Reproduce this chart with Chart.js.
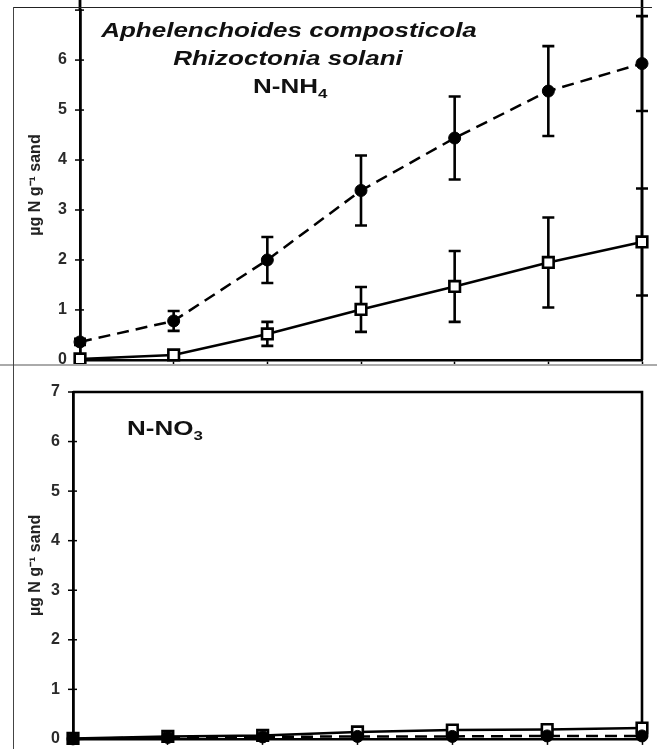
<!DOCTYPE html>
<html>
<head>
<meta charset="utf-8">
<script src="https://cdn.jsdelivr.net/npm/chart.js@4.4.1/dist/chart.umd.min.js"></script>
<style>
  html, body { margin: 0; padding: 0; background: #fff; }
  #wrap { position: relative; width: 657px; height: 749px; overflow: hidden; }
  canvas { position: absolute; left: 0; }
  #topChart { top: 0; }
  #botChart { top: 368px; }
  .line { position: absolute; }
  #frameTop { left: 13px; top: 7px; width: 639px; border-top: 1.5px solid #222; }
  #frameLeft { left: 13px; top: 7px; height: 742px; border-left: 1.5px solid #444; }
  #sep { left: 0; top: 364px; width: 657px; border-top: 2px solid #aaa; }
</style>
</head>
<body>
<div id="wrap">
  <canvas id="topChart" width="657" height="370"></canvas>
  <canvas id="botChart" width="657" height="381"></canvas>
  <div class="line" id="sep"></div>
  <div class="line" id="frameTop"></div>
  <div class="line" id="frameLeft"></div>
</div>
<script>
// sampling days (x axis, labels cut off in the original)
const days = [0, 1, 2, 3, 4, 5, 6];

// N-NH4 panel
const nh4Circles = [0.36, 0.78, 2.0, 3.39, 4.44, 5.38, 5.93];
const nh4CirclesErr = [0.06, 0.2, 0.46, 0.7, 0.83, 0.9, 0.95];
const nh4Squares = [0.02, 0.1, 0.52, 1.01, 1.47, 1.95, 2.36];
const nh4SquaresErr = [0.02, 0.04, 0.24, 0.45, 0.71, 0.9, 1.07];

// N-NO3 panel
const no3Circles = [0.0, 0.03, 0.04, 0.05, 0.05, 0.06, 0.06];
const no3CirclesErr = [0.01, 0.01, 0.01, 0.01, 0.01, 0.01, 0.01];
const no3Squares = [0.01, 0.05, 0.07, 0.14, 0.18, 0.19, 0.22];
const no3SquaresErr = [0.01, 0.01, 0.02, 0.02, 0.02, 0.02, 0.02];

const yMax = 7;
const yTitle = "µg N g⁻¹ sand";
const STRETCH = 1.3; // the scanned figure is a bit wider than tall

function series(vals, errs, style) {
  return Object.assign(
    {
      data: vals.map((v, i) => ({ x: days[i], y: v })),
      errors: errs,
      borderColor: "#000",
      borderWidth: 2.5,
      pointBorderColor: "#000",
      clip: false,
      tension: 0,
    },
    style
  );
}

const circleStyle = {
  borderDash: [12, 7],
  pointStyle: "circle",
  pointRadius: 6,
  pointBackgroundColor: "#000",
  pointBorderWidth: 1,
};
const squareStyle = {
  pointStyle: "rect",
  pointRadius: 7.5,
  pointBackgroundColor: "#fff",
  pointBorderWidth: 2.6,
};

function drawNote(ctx, n) {
  ctx.save();
  ctx.fillStyle = "#111";
  ctx.textAlign = "left";
  ctx.textBaseline = "alphabetic";
  const mainFont = (n.italic ? "italic " : "") + "bold 20px Arial";
  ctx.font = mainFont;
  const w = ctx.measureText(n.text).width;
  ctx.font = "bold 13px Arial";
  const sw = n.sub ? ctx.measureText(n.sub).width : 0;
  const total = (w + sw) * STRETCH;
  const x0 = n.align === "center" ? n.x - total / 2 : n.x;
  ctx.translate(x0, n.y);
  ctx.scale(STRETCH, 1);
  ctx.font = mainFont;
  ctx.fillText(n.text, 0, 0);
  if (n.sub) {
    ctx.font = "bold 13px Arial";
    ctx.fillText(n.sub, w, 5);
  }
  ctx.restore();
}

const panelDecor = {
  id: "panelDecor",
  beforeDatasetsDraw(chart, args, opts) {
    const { ctx, chartArea: a, scales: { x, y } } = chart;
    ctx.save();
    ctx.strokeStyle = "#000";

    // right (and top) frame of the plot
    ctx.lineWidth = 2.6;
    ctx.beginPath();
    ctx.moveTo(a.right, a.bottom);
    ctx.lineTo(a.right, opts.boxTop ? a.top : 0);
    if (opts.boxTop) ctx.lineTo(a.left, a.top);
    ctx.stroke();
    if (!opts.boxTop) {
      // left axis runs on past the crop line
      ctx.lineWidth = 2.8;
      ctx.beginPath();
      ctx.moveTo(a.left, a.top);
      ctx.lineTo(a.left, 0);
      ctx.stroke();
    }

    // y ticks crossing the left axis
    ctx.lineWidth = 1.5;
    y.ticks.forEach((t) => {
      const py = y.getPixelForValue(t.value);
      ctx.beginPath();
      ctx.moveTo(a.left - 5, py);
      ctx.lineTo(a.left + 4, py);
      ctx.stroke();
    });

    // error bars
    ctx.lineWidth = 2.6;
    chart.data.datasets.forEach((ds) => {
      ds.data.forEach((p, i) => {
        const e = ds.errors[i];
        if (!e) return;
        const px = x.getPixelForValue(p.x);
        const hi = y.getPixelForValue(p.y + e);
        const lo = y.getPixelForValue(Math.max(p.y - e, 0));
        ctx.beginPath();
        ctx.moveTo(px, hi);
        ctx.lineTo(px, lo);
        ctx.moveTo(px - 6, hi);
        ctx.lineTo(px + 6, hi);
        ctx.moveTo(px - 6, lo);
        ctx.lineTo(px + 6, lo);
        ctx.stroke();
      });
    });
    ctx.restore();

    (opts.notes || []).forEach((n) => drawNote(ctx, n));
  },
};

function makeChart(id, datasets, lay) {
  return new Chart(document.getElementById(id), {
    type: "line",
    data: { datasets },
    plugins: [panelDecor],
    options: {
      responsive: false,
      animation: false,
      layout: { padding: { left: 0, right: 15, top: lay.top, bottom: 0 } },
      plugins: {
        legend: { display: false },
        tooltip: { enabled: false },
        panelDecor: { boxTop: lay.boxTop, notes: lay.notes },
      },
      scales: {
        x: {
          type: "linear",
          min: days[0],
          max: days[days.length - 1],
          ticks: { display: false, stepSize: 1 },
          grid: {
            drawOnChartArea: false,
            drawTicks: true,
            tickLength: 6,
            tickColor: "#000",
            tickWidth: 1.5,
          },
          border: { color: "#000", width: 2.6 },
          afterFit: (s) => {
            s.height = lay.xHeight;
            s.paddingLeft = 0;
            s.paddingRight = 0;
          },
        },
        y: {
          min: 0,
          max: yMax,
          ticks: {
            stepSize: 1,
            padding: 13,
            color: "#2a2a2a",
            font: { family: "Arial", size: 16, weight: "bold" },
            callback: (v) => (lay.hideTop && v === yMax ? "" : v),
          },
          grid: { display: false, drawTicks: false },
          border: { color: "#000", width: 2.8 },
          title: {
            display: true,
            text: yTitle,
            color: "#222",
            font: { family: "Arial", size: 16, weight: "bold" },
            padding: { top: 26, bottom: 0 },
          },
          afterFit: (s) => {
            s.width = lay.yWidth;
            s.paddingTop = 0;
            s.paddingBottom = 0;
          },
        },
      },
    },
  });
}

makeChart(
  "topChart",
  [
    series(nh4Circles, nh4CirclesErr, circleStyle),
    series(nh4Squares, nh4SquaresErr, squareStyle),
  ],
  {
    top: 8,
    xHeight: 9,
    yWidth: 80,
    boxTop: false,
    hideTop: true,
    notes: [
      { text: "Aphelenchoides composticola", x: 289, y: 37, align: "center", italic: true },
      { text: "Rhizoctonia solani", x: 288, y: 65, align: "center", italic: true },
      { text: "N-NH", sub: "4", x: 253, y: 93, align: "left" },
    ],
  }
);

makeChart(
  "botChart",
  [
    series(no3Circles, no3CirclesErr, circleStyle),
    series(no3Squares, no3SquaresErr, squareStyle),
  ],
  {
    top: 24,
    xHeight: 6,
    yWidth: 73,
    boxTop: true,
    hideTop: false,
    notes: [{ text: "N-NO", sub: "3", x: 127, y: 67, align: "left" }],
  }
);
</script>
</body>
</html>
